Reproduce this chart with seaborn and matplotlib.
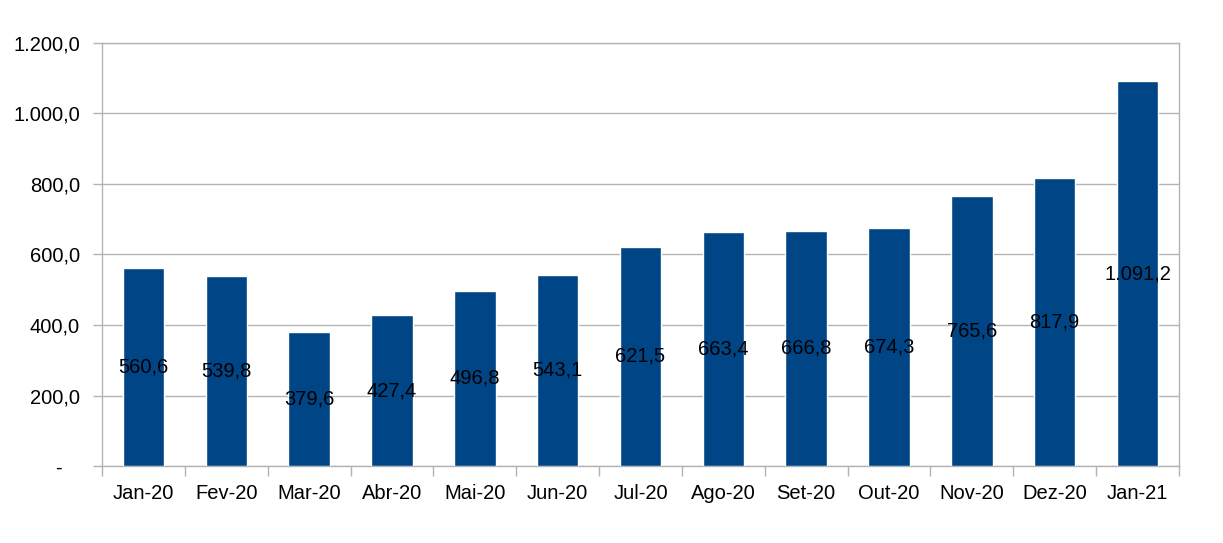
import matplotlib
matplotlib.use("Agg")
import matplotlib.pyplot as plt
import seaborn as sns
import pandas as pd
from matplotlib.ticker import FixedLocator, FuncFormatter

months = ["Jan-20", "Fev-20", "Mar-20", "Abr-20", "Mai-20", "Jun-20", "Jul-20",
          "Ago-20", "Set-20", "Out-20", "Nov-20", "Dez-20", "Jan-21"]
values = [560.6, 539.8, 379.6, 427.4, 496.8, 543.1, 621.5,
          663.4, 666.8, 674.3, 765.6, 817.9, 1091.2]
yticks = [0, 200, 400, 600, 800, 1000, 1200]

sns.set_theme(style="white")
plt.rcParams["font.family"] = ["Liberation Sans", "DejaVu Sans"]

df = pd.DataFrame({"mes": months, "valor": values})

fig = plt.figure(figsize=(12.23, 5.43), dpi=100)
ax = fig.add_axes([102 / 1223, 1 - 466 / 543, (1179 - 102) / 1223, (466 - 43) / 543])

sns.barplot(data=df, x="mes", y="valor", color="#004586", saturation=1,
            width=0.5, ax=ax, zorder=3)

FS = 14.5

def fmt(v):
    s = f"{v:,.1f}"
    return s.replace(",", "X").replace(".", ",").replace("X", ".")

for i, v in enumerate(values):
    ax.text(i, v / 2, fmt(v), ha="center", va="center", fontsize=FS,
            color="black", zorder=4)

ax.set_xlim(-0.5, len(months) - 0.5)
ax.set_ylim(0, 1200)
ax.yaxis.set_major_locator(FixedLocator(yticks))
ax.yaxis.set_major_formatter(FuncFormatter(lambda v, p: "-   " if v == 0 else fmt(v)))
ax.grid(axis="y", color="#b3b3b3", linewidth=1, zorder=0)
ax.set_axisbelow(True)

ax.xaxis.set_major_locator(FixedLocator([i + 0.5 for i in range(-1, len(months))]))
ax.xaxis.set_major_formatter(FuncFormatter(lambda v, p: ""))
ax.set_xticks(range(len(months)), minor=True)
ax.set_xticklabels(months, minor=True)
ax.tick_params(axis="x", which="major", length=7, width=1, color="#b3b3b3",
               direction="out", bottom=True)
ax.tick_params(axis="x", which="minor", length=0, labelsize=FS, pad=13,
               labelcolor="black")
ax.tick_params(axis="y", length=6.5, width=1, color="#b3b3b3", direction="out",
               left=True, labelsize=FS, pad=9.4, labelcolor="black")

for s in ax.spines.values():
    s.set_visible(True)
    s.set_color("#b3b3b3")
    s.set_linewidth(1)

ax.set_xlabel("")
ax.set_ylabel("")

fig.savefig("out.png", dpi=100, facecolor="white")
